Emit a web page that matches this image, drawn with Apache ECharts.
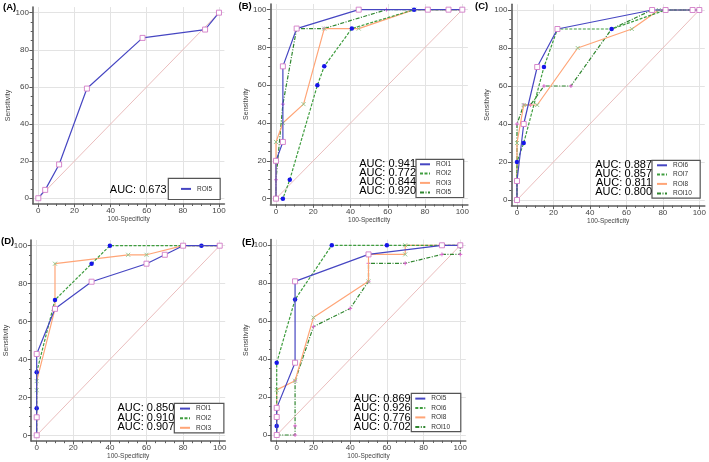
<!DOCTYPE html>
<html>
<head>
<meta charset="utf-8">
<script src="https://cdn.jsdelivr.net/npm/echarts@6/dist/echarts.min.js"></script>
<style>
html,body{margin:0;padding:0;background:#fff;}
#chart{width:709px;height:462px;}
</style>
</head>
<body>
<div id="chart"></div>
<script>
// ---------- data ----------
const tickValues = [0, 20, 40, 60, 80, 100];
const minorTickValues = [5, 10, 15, 25, 30, 35, 45, 50, 55, 65, 70, 75, 85, 90, 95];
const diagX = [0, 100];
const diagY = [0, 100];

const aNames = ['ROI5'];
const aAuc = ['0.673'];
const aRoi5X = [0, 3.8, 11.5, 26.9, 57.7, 92.3, 100];
const aRoi5Y = [0, 4.5, 18.2, 59.1, 86.4, 90.9, 100];

const bNames = ['ROI1', 'ROI2', 'ROI3', 'ROI5'];
const bAuc = ['0.941', '0.772', '0.844', '0.920'];
const bRoi1X = [0, 0, 3.7, 3.7, 11.1, 44.4, 81.5, 92.6, 100];
const bRoi1Y = [0, 20, 30, 70, 90, 100, 100, 100, 100];
const bRoi2X = [0, 3.7, 7.4, 22.2, 25.9, 40.7, 74.1, 100];
const bRoi2Y = [0, 0, 10, 60, 70, 90, 100, 100];
const bRoi3X = [0, 0, 3.7, 14.8, 25.9, 44.4, 74.1, 100];
const bRoi3Y = [0, 30, 40, 50, 90, 90, 100, 100];
const bRoi5X = [0, 0, 3.7, 11.1, 25.9, 59.3, 100];
const bRoi5Y = [0, 10, 50, 90, 90, 100, 100];

const cNames = ['ROI6', 'ROI7', 'ROI8', 'ROI10'];
const cAuc = ['0.887', '0.857', '0.811', '0.800'];
const cRoi6X = [0, 0, 3.7, 11.1, 22.2, 74.1, 81.5, 96.3, 100];
const cRoi6Y = [0, 10, 40, 70, 90, 100, 100, 100, 100];
const cRoi7X = [0, 0, 3.7, 14.8, 22.2, 51.9, 81.5, 100];
const cRoi7Y = [0, 20, 30, 70, 90, 90, 100, 100];
const cRoi8X = [0, 0, 3.7, 11.1, 33.3, 63.0, 77.8, 100];
const cRoi8Y = [0, 30, 50, 50, 80, 90, 100, 100];
const cRoi10X = [0, 0, 3.7, 7.4, 14.8, 29.6, 51.9, 74.1, 100];
const cRoi10Y = [0, 40, 50, 50, 60, 60, 90, 100, 100];

const dNames = ['ROI1', 'ROI2', 'ROI3'];
const dAuc = ['0.850', '0.910', '0.907'];
const dRoi1X = [0, 0, 0, 10, 30, 60, 70, 80, 100];
const dRoi1Y = [0, 9.5, 42.9, 66.7, 81.0, 90.5, 95.2, 100, 100];
const dRoi2X = [0, 0, 0, 10, 30, 40, 90, 100];
const dRoi2Y = [0, 14.3, 33.3, 71.4, 90.5, 100, 100, 100];
const dRoi3X = [0, 0, 0, 10, 10, 50, 60, 80, 100];
const dRoi3Y = [0, 23.8, 28.6, 66.7, 90.5, 95.2, 95.2, 100, 100];

const eNames = ['ROI5', 'ROI6', 'ROI8', 'ROI10'];
const eAuc = ['0.869', '0.926', '0.776', '0.702'];
const eRoi5X = [0, 0, 0, 10, 10, 50, 90, 100];
const eRoi5Y = [0, 9.5, 14.3, 38.1, 81.0, 95.2, 100, 100];
const eRoi6X = [0, 0, 0, 0, 10, 30, 60, 100];
const eRoi6Y = [0, 4.8, 14.3, 38.1, 71.4, 100, 100, 100];
const eRoi8X = [0, 0, 10, 20, 50, 50, 70, 70, 100];
const eRoi8Y = [0, 23.8, 28.6, 61.9, 81.0, 95.2, 95.2, 100, 100];
const eRoi10X = [0, 10, 10, 10, 20, 40, 50, 50, 70, 90, 100, 100];
const eRoi10Y = [0, 0, 4.8, 28.6, 57.1, 66.7, 81.0, 90.5, 90.5, 95.2, 95.2, 100];

const xAxisName = '100-Specificity';
const yAxisName = 'Sensitivity';

// ---------- layout & styles ----------
const FONT = '"Liberation Sans", Arial, sans-serif';
const panels = [
  { label: '(A)', names: aNames, auc: aAuc, xs: [aRoi5X], ys: [aRoi5Y],
    grid: { left: 32.9, top: 7.1, width: 191.5, height: 196.7 },
    labelPos: [3, 7], aucRight: 166.7, aucY: [190],
    legend: { left: 168.3, top: 178.3, padding: [6.8, 8, 6.8, 11.7], gap: 2 } },
  { label: '(B)', names: bNames, auc: bAuc, xs: [bRoi1X, bRoi2X, bRoi3X, bRoi5X], ys: [bRoi1Y, bRoi2Y, bRoi3Y, bRoi5Y],
    grid: { left: 270.4, top: 4.0, width: 197.5, height: 200.3 },
    labelPos: [238.5, 6], aucRight: 416, aucY: [164, 173, 182, 191],
    legend: { left: 416, top: 159.3, padding: [1.2, 12.5, 1.2, 3], gap: 2 } },
  { label: '(C)', names: cNames, auc: cAuc, xs: [cRoi6X, cRoi7X, cRoi8X, cRoi10X], ys: [cRoi6Y, cRoi7Y, cRoi8Y, cRoi10Y],
    grid: { left: 511.5, top: 4.3, width: 194.7, height: 201.4 },
    labelPos: [475, 6.7], aucRight: 652, aucY: [165, 174, 183, 192],
    legend: { left: 652, top: 160.3, padding: [1.2, 8.4, 0.8, 4], gap: 2 } },
  { label: '(D)', names: dNames, auc: dAuc, xs: [dRoi1X, dRoi2X, dRoi3X], ys: [dRoi1Y, dRoi2Y, dRoi3Y],
    grid: { left: 31.2, top: 240, width: 194, height: 201 },
    labelPos: [1, 241.7], aucRight: 174.3, aucY: [408.3, 417.7, 427],
    legend: { left: 174.3, top: 403.3, padding: [1.5, 12.7, 1.2, 4.7], gap: 2.3 } },
  { label: '(E)', names: eNames, auc: eAuc, xs: [eRoi5X, eRoi6X, eRoi8X, eRoi10X], ys: [eRoi5Y, eRoi6Y, eRoi8Y, eRoi10Y],
    grid: { left: 271.2, top: 239.6, width: 194.6, height: 201.1 },
    labelPos: [242, 242.3], aucRight: 410.7, aucY: [399, 408.3, 417.7, 427],
    legend: { left: 411.3, top: 393.3, padding: [1.5, 10.7, 0.8, 3], gap: 2.1 } }
];

const seriesStyles = [
  { line: { color: '#4646c2', type: 'solid', width: 1.2 },
    symbol: 'rect', size: 5, item: { color: '#ffffff', borderColor: '#d27cc6', borderWidth: 0.9 } },
  { line: { color: '#3f9d3f', type: [3, 1.5], width: 1.2 },
    symbol: 'circle', size: 4.5, item: { color: '#1515e8', borderWidth: 0 } },
  { line: { color: '#ffa577', type: 'solid', width: 1.2 },
    symbol: 'path://M0,0L10,10M10,0L0,10', size: 4, item: { color: 'rgba(0,0,0,0)', borderColor: '#8cc488', borderWidth: 0.9 } },
  { line: { color: '#2f862f', type: [4, 1.5, 1, 1.5], width: 1.2 },
    symbol: 'path://M5,0L5,10M0,5L10,5', size: 4, item: { color: 'rgba(0,0,0,0)', borderColor: '#e060d2', borderWidth: 0.9 } }
];

const zip = (xs, ys) => xs.map((x, i) => [x, ys[i]]);
const AX = '#5c5c5c';

const grids = [], xAxes = [], yAxes = [], series = [], legends = [], graphics = [];

panels.forEach((p, i) => {
  grids.push(Object.assign({ containLabel: false }, p.grid));
  const common = { gridIndex: i, type: 'value', min: -3, max: 103 };
  // main x axis
  xAxes.push(Object.assign({}, common, {
    position: 'bottom',
    axisLine: { show: true, onZero: false, lineStyle: { color: AX, width: 1.6 } },
    axisTick: { show: true, customValues: tickValues, length: 3.5, lineStyle: { color: AX, width: 1 } },
    axisLabel: { show: true, customValues: tickValues, fontSize: 8, color: '#444', margin: 3, fontFamily: FONT },
    splitLine: { show: true, lineStyle: { color: '#e3e3e3', width: 1 } },
    name: xAxisName, nameLocation: 'middle', nameGap: 12,
    nameTextStyle: { fontSize: 6.5, color: '#444', fontFamily: FONT }
  }));
  // minor x axis (ticks only)
  xAxes.push(Object.assign({}, common, {
    position: 'bottom',
    axisLine: { show: false, onZero: false },
    axisTick: { show: true, customValues: minorTickValues, length: 2.2, lineStyle: { color: AX, width: 1 } },
    axisLabel: { show: false },
    splitLine: { show: false }
  }));
  yAxes.push(Object.assign({}, common, {
    position: 'left',
    axisLine: { show: true, onZero: false, lineStyle: { color: AX, width: 1.6 } },
    axisTick: { show: true, customValues: tickValues, length: 3.5, lineStyle: { color: AX, width: 1 } },
    axisLabel: { show: true, customValues: tickValues, fontSize: 8, color: '#444', margin: 4, fontFamily: FONT },
    splitLine: { show: true, lineStyle: { color: '#e3e3e3', width: 1 } },
    name: yAxisName, nameLocation: 'middle', nameGap: 20,
    nameTextStyle: { fontSize: 7, color: '#444', fontFamily: FONT }
  }));
  yAxes.push(Object.assign({}, common, {
    position: 'left',
    axisLine: { show: false, onZero: false },
    axisTick: { show: true, customValues: minorTickValues, length: 2.2, lineStyle: { color: AX, width: 1 } },
    axisLabel: { show: false },
    splitLine: { show: false }
  }));

  // diagonal reference line
  series.push({
    type: 'line', xAxisIndex: 2 * i, yAxisIndex: 2 * i, data: zip(diagX, diagY),
    symbol: 'none', silent: true, animation: false, z: 1,
    lineStyle: { color: '#e8b6b6', width: 0.9 }
  });

  const legendData = [];
  p.names.forEach((nm, k) => {
    const st = seriesStyles[k];
    const sName = p.label + '|' + nm;
    legendData.push(sName);
    series.push({
      type: 'line', name: sName, xAxisIndex: 2 * i, yAxisIndex: 2 * i,
      data: zip(p.xs[k], p.ys[k]),
      symbol: st.symbol, symbolSize: st.size, showSymbol: true, showAllSymbol: true,
      lineStyle: st.line, itemStyle: st.item, animation: false, z: 2 + (p.names.length - k)
    });
  });

  legends.push({
    data: legendData, orient: 'vertical', left: p.legend.left, top: p.legend.top,
    padding: p.legend.padding, itemGap: p.legend.gap, itemWidth: 10, itemHeight: 7,
    backgroundColor: '#fff', borderColor: '#555', borderWidth: 1.2, borderRadius: 0,
    selectedMode: false, itemStyle: { opacity: 0 },
    formatter: (n) => n.split('|')[1],
    textStyle: { fontSize: 6.5, color: '#333', fontFamily: FONT, padding: [0, 0, 0, 1] }
  });

  graphics.push({
    type: 'text', x: p.labelPos[0], y: p.labelPos[1], z: 100,
    style: { text: p.label, font: 'bold 9.5px ' + FONT, fill: '#000', textAlign: 'left', textVerticalAlign: 'middle' }
  });
  p.auc.forEach((a, k) => {
    graphics.push({
      type: 'text', x: p.aucRight, y: p.aucY[k], z: 100,
      style: { text: 'AUC: ' + a, font: '11px ' + FONT, fill: '#000', textAlign: 'right', textVerticalAlign: 'middle' }
    });
  });
});

const chart = echarts.init(document.getElementById('chart'), null, { renderer: 'canvas' });
chart.setOption({
  backgroundColor: '#fff',
  animation: false,
  grid: grids, xAxis: xAxes, yAxis: yAxes, series: series, legend: legends, graphic: graphics
});
</script>
</body>
</html>
